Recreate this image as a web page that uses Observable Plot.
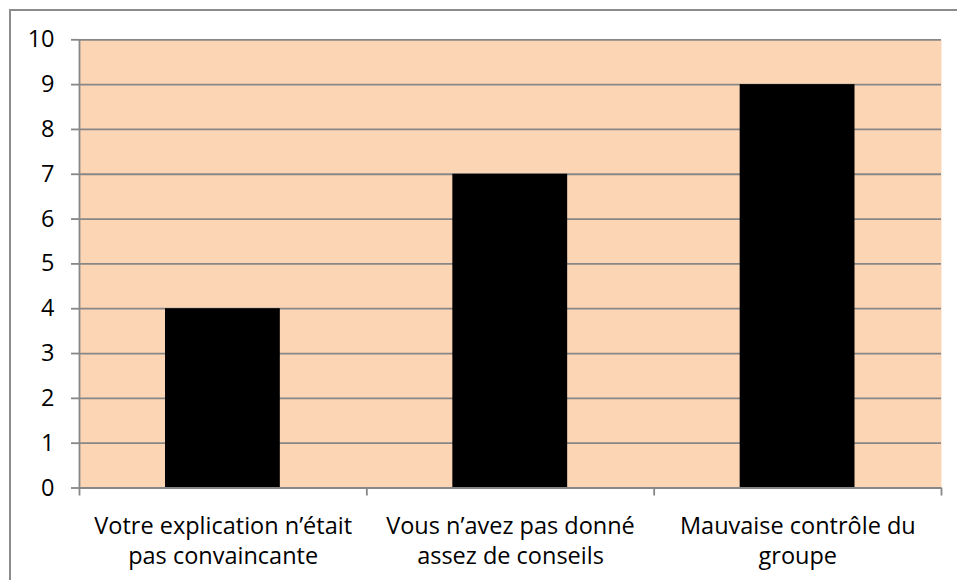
<!DOCTYPE html>
<html>
<head>
<meta charset="utf-8">
<script src="https://cdn.jsdelivr.net/npm/d3@7"></script>
<script src="https://cdn.jsdelivr.net/npm/@observablehq/plot@0.6"></script>
<style>
  html, body { margin: 0; padding: 0; background: #ffffff; }
  #wrap { position: relative; width: 957px; height: 580px; overflow: hidden; }
  #border { position: absolute; left: 9px; top: 9px; width: 1000px; height: 1000px;
            border-left: 2px solid #8c8c8c; border-top: 2px solid #8c8c8c; box-sizing: border-box; }
  #chart { position: absolute; left: 0; top: 0; }
</style>
</head>
<body>
<div id="wrap"><div id="border"></div><div id="chart"></div></div>
<script>
const categories = [
  "Votre explication n’était\npas convaincante",
  "Vous n’avez pas donné\nassez de conseils",
  "Mauvaise contrôle du\ngroupe"
];
const values = [4, 7, 9];
const yTicks = [0, 1, 2, 3, 4, 5, 6, 7, 8, 9, 10];

const data = categories.map((c, i) => ({category: c, value: values[i], x1: i, x2: i + 1, mid: i + 0.5}));
const bounds = d3.range(categories.length + 1);

const gray = "#878787";
const fontSize = 23.5;

const chart = Plot.plot({
  width: 957,
  height: 580,
  marginLeft: 79,
  marginRight: 16,
  marginTop: 39.3,
  marginBottom: 92.5,
  style: {fontFamily: "'Open Sans', sans-serif", fontSize: fontSize + "px", background: "transparent", color: "black"},
  x: {domain: [0, categories.length], axis: null},
  y: {domain: [0, 10], axis: null},
  marks: [
    Plot.frame({fill: "#FCD5B5", stroke: null}),
    Plot.gridY(yTicks, {stroke: gray, strokeOpacity: 1, strokeWidth: 1.8}),
    Plot.rectY(data, {x1: "x1", x2: "x2", y: "value", fill: "black", insetLeft: 86, insetRight: 86.5}),
    Plot.ruleX([0], {stroke: gray, strokeWidth: 1.8}),
    Plot.ruleY([0], {stroke: gray, strokeWidth: 1.8}),
    Plot.axisY({ticks: yTicks, tickSize: 8, tickPadding: 17, stroke: gray, strokeWidth: 1.8, fill: "black", fontSize: fontSize, label: null}),
    Plot.axisX({ticks: bounds, tickSize: 8, tickFormat: () => "", stroke: gray, strokeWidth: 1.8, label: null}),
    Plot.text(data, {x: "mid", y: () => 0, text: "category", lineAnchor: "top", dy: 25, lineHeight: 30 / fontSize, fontSize: fontSize, fill: "black"})
  ]
});
document.getElementById("chart").appendChild(chart);
</script>
</body>
</html>
